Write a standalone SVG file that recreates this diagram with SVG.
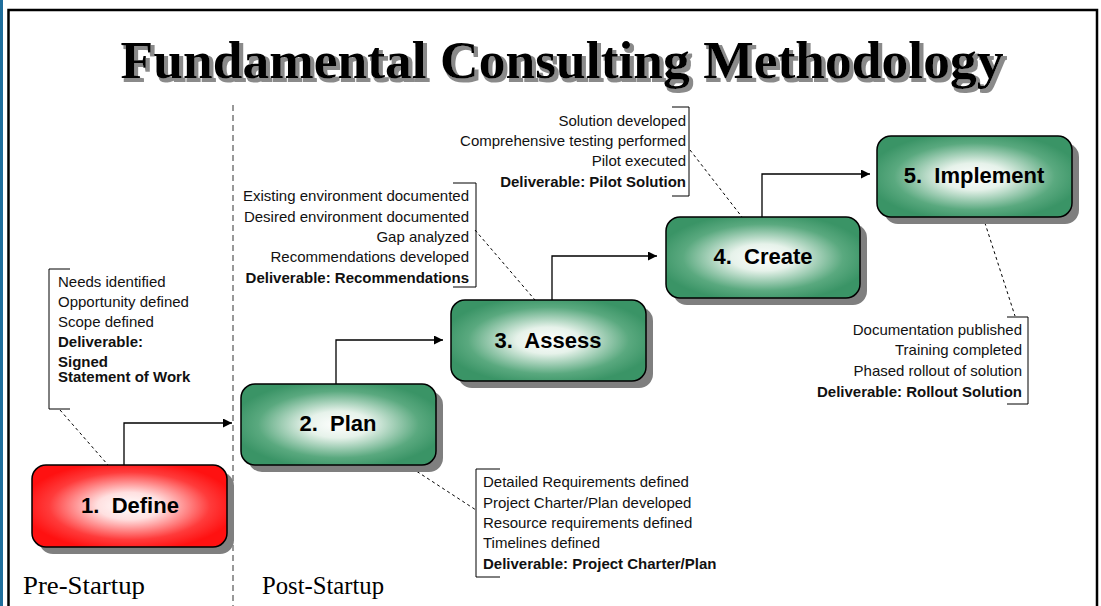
<svg xmlns="http://www.w3.org/2000/svg" width="1101" height="606" viewBox="0 0 1101 606">
<style>
.callout{font-family:"Liberation Sans",Arial,sans-serif;font-size:15px;fill:#111}
.b{font-weight:bold}
.box{stroke:#000;stroke-width:1.5}
.shadow{fill:#7f7f7f}
.label{font-family:"Liberation Sans",Arial,sans-serif;font-size:22px;font-weight:bold;fill:#000;text-anchor:middle;white-space:pre}
.conn{fill:none;stroke:#000;stroke-width:1.3}
.lead{fill:none;stroke:#000;stroke-width:1;stroke-dasharray:3,3}
.bracket{fill:none;stroke:#000;stroke-width:1}
.phase{font-family:"Liberation Serif","Times New Roman",serif;font-size:25px;fill:#000}
.title{font-family:"Liberation Serif","Times New Roman",serif;font-size:53.5px;font-weight:bold;text-anchor:middle}
</style>
<defs>
<radialGradient id="gGreen" cx="50%" cy="50%" r="55%">
<stop offset="0" stop-color="#ffffff"/>
<stop offset="0.3" stop-color="#e6f2ea"/>
<stop offset="0.75" stop-color="#5aa97f"/>
<stop offset="1" stop-color="#3a9466"/>
</radialGradient>
<radialGradient id="gRed" cx="50%" cy="50%" r="55%">
<stop offset="0" stop-color="#ffffff"/>
<stop offset="0.3" stop-color="#ffe0e0"/>
<stop offset="0.75" stop-color="#ff3b3b"/>
<stop offset="1" stop-color="#ff1111"/>
</radialGradient>
<filter id="tshadow" x="-5%" y="-20%" width="110%" height="150%">
<feMorphology in="SourceAlpha" operator="dilate" radius="0.6" result="d"/>
<feOffset in="d" dx="3" dy="3" result="o"/>
<feFlood flood-color="#8a8a8a"/>
<feComposite in2="o" operator="in" result="s"/>
<feMerge><feMergeNode in="s"/><feMergeNode in="SourceGraphic"/></feMerge>
</filter>
<marker id="arr" viewBox="0 0 10 10" refX="10" refY="5" markerWidth="9" markerHeight="9" markerUnits="userSpaceOnUse" orient="auto">
<path d="M0,0 L10,5 L0,10 z" fill="#000"/>
</marker>
</defs>
<rect x="0" y="0" width="1101" height="606" fill="#fff"/>
<rect x="0" y="0" width="3" height="606" fill="#1f6e9c"/>
<path d="M8.5,606 V10 H1097 V606" fill="none" stroke="#000" stroke-width="2.5"/>

<g id="title">
<text class="title" x="562" y="78" fill="#000" filter="url(#tshadow)">Fundamental Consulting Methodology</text>
</g>

<line x1="233" y1="105" x2="233" y2="606" stroke="#333" stroke-width="1" stroke-dasharray="6,4"/>

<g id="connectors">
<path class="conn" d="M124,465 V423 H232" marker-end="url(#arr)"/>
<path class="conn" d="M336,384 V340 H443" marker-end="url(#arr)"/>
<path class="conn" d="M552,300 V256 H657" marker-end="url(#arr)"/>
<path class="conn" d="M762,217 V174 H870" marker-end="url(#arr)"/>
<path class="lead" d="M60,410 L108,465"/>
<path class="lead" d="M407,465 L476,510"/>
<path class="lead" d="M475,230 L535,300"/>
<path class="lead" d="M690,150 L742,217"/>
<path class="lead" d="M983,217 L1015,316"/>
</g>

<g id="node1">
<rect class="shadow" x="39" y="472" width="195" height="82" rx="14"/>
<rect class="box" x="32" y="465" width="195" height="82" rx="14" fill="url(#gRed)"/>
<text class="label" x="130" y="513">1.  Define</text>
</g>
<g id="node2">
<rect class="shadow" x="248" y="391" width="195" height="81" rx="14"/>
<rect class="box" x="241" y="384" width="195" height="81" rx="14" fill="url(#gGreen)"/>
<text class="label" x="338" y="431">2.  Plan</text>
</g>
<g id="node3">
<rect class="shadow" x="458" y="307" width="195" height="81" rx="14"/>
<rect class="box" x="451" y="300" width="195" height="81" rx="14" fill="url(#gGreen)"/>
<text class="label" x="548" y="348">3.  Assess</text>
</g>
<g id="node4">
<rect class="shadow" x="673" y="224" width="194" height="81" rx="14"/>
<rect class="box" x="666" y="217" width="194" height="81" rx="14" fill="url(#gGreen)"/>
<text class="label" x="763" y="264">4.  Create</text>
</g>
<g id="node5">
<rect class="shadow" x="884" y="143" width="195" height="81" rx="14"/>
<rect class="box" x="877" y="136" width="195" height="81" rx="14" fill="url(#gGreen)"/>
<text class="label" x="974" y="183">5.  Implement</text>
</g>

<g id="callout1">
<path class="bracket" d="M70,269 H49 V409 H70"/>
<text class="callout" x="58" y="287">Needs identified</text>
<text class="callout" x="58" y="307">Opportunity defined</text>
<text class="callout" x="58" y="327">Scope defined</text>
<text class="callout b" x="58" y="347">Deliverable:</text>
<text class="callout b" x="58" y="367">Signed<tspan x="58" dy="15">Statement of Work</tspan></text>
</g>
<g id="callout2">
<path class="bracket" d="M500,469 H476 V577 H500"/>
<text class="callout" x="483" y="487">Detailed Requirements defined</text>
<text class="callout" x="483" y="507.5">Project Charter/Plan developed</text>
<text class="callout" x="483" y="528">Resource requirements defined</text>
<text class="callout" x="483" y="548">Timelines defined</text>
<text class="callout b" x="483" y="568.5">Deliverable: Project Charter/Plan</text>
</g>
<g id="callout3" text-anchor="end">
<path class="bracket" d="M453,183 H476 V287 H453"/>
<text class="callout" x="469" y="201">Existing environment documented</text>
<text class="callout" x="469" y="221.5">Desired environment documented</text>
<text class="callout" x="469" y="242">Gap analyzed</text>
<text class="callout" x="469" y="262">Recommendations developed</text>
<text class="callout b" x="469" y="283">Deliverable: Recommendations</text>
</g>
<g id="callout4" text-anchor="end">
<path class="bracket" d="M672,107 H689 V196 H672"/>
<text class="callout" x="686" y="126">Solution developed</text>
<text class="callout" x="686" y="146">Comprehensive testing performed</text>
<text class="callout" x="686" y="166">Pilot executed</text>
<text class="callout b" x="686" y="187">Deliverable: Pilot Solution</text>
</g>
<g id="callout5" text-anchor="end">
<path class="bracket" d="M1007,317 H1028 V404 H1007"/>
<text class="callout" x="1022" y="335">Documentation published</text>
<text class="callout" x="1022" y="355">Training completed</text>
<text class="callout" x="1022" y="376">Phased rollout of solution</text>
<text class="callout b" x="1022" y="397">Deliverable: Rollout Solution</text>
</g>

<text class="phase" x="23" y="594" textLength="122" lengthAdjust="spacingAndGlyphs">Pre-Startup</text>
<text class="phase" x="262" y="594" textLength="122" lengthAdjust="spacingAndGlyphs">Post-Startup</text>
</svg>
